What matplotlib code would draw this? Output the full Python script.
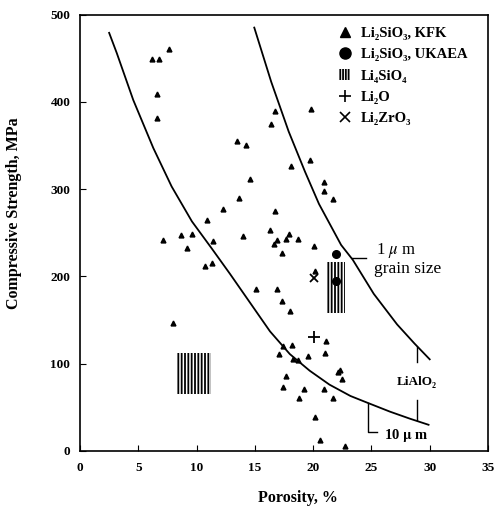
import matplotlib
matplotlib.use("Agg")
import matplotlib.pyplot as plt
from matplotlib.patches import Rectangle, Patch
from matplotlib.lines import Line2D

plt.rcParams['font.family'] = ['Liberation Serif', 'DejaVu Serif']
plt.rcParams['mathtext.fontset'] = 'stix'
plt.rcParams['hatch.linewidth'] = 1.3

# Li2SiO3, KFK data (porosity %, strength MPa)
kfk_x = [6.2, 6.8, 7.6, 6.6, 6.6, 13.5, 14.2, 14.6, 13.6, 12.3, 10.9, 16.4, 16.7, 19.8,
         18.1, 19.7, 16.7, 16.3, 16.9, 16.6, 17.7, 17.9, 18.7, 20.1, 7.1, 8.7, 9.6, 9.2,
         11.4, 14.0, 10.7, 11.3, 15.1, 16.9, 17.3, 18.0, 8.0, 17.4, 18.2, 17.1, 18.3,
         18.7, 19.6, 17.7, 17.4, 19.2, 18.8, 20.2, 20.6, 20.2, 17.3, 20.9, 20.9, 21.7,
         21.1, 21.0, 22.1, 22.3, 22.5, 20.9, 21.7, 22.7]
kfk_y = [449, 449, 461, 409, 382, 355, 350, 311, 290, 277, 265, 375, 389, 392,
         326, 333, 275, 253, 242, 237, 243, 248, 243, 235, 242, 247, 249, 232,
         240, 246, 212, 215, 186, 186, 172, 160, 147, 120, 121, 111, 105,
         104, 109, 86, 73, 71, 61, 39, 13, 206, 227, 308, 298, 289,
         126, 112, 91, 93, 83, 71, 61, 6]

# Li2SiO3, UKAEA
ukaea_x = [22.0, 22.0]
ukaea_y = [226, 195]

# Li4SiO4 ranges (x0, x1, y0, y1)
li4_x0 = [8.2, 21.2]
li4_x1 = [11.2, 22.7]
li4_y0 = [65, 158]
li4_y1 = [112, 217]

# Li2O
li2o_x = [20.1]
li2o_y = [130]

# Li2ZrO3
lizr_x = [20.1]
lizr_y = [198]

# LiAlO2 curves
c10_x = [2.5, 3.15, 4.57, 6.29, 7.86, 9.6, 11.3, 12.86, 14.58, 16.3, 18.0, 19.7,
         21.4, 23.2, 24.7, 26.6, 28.3, 29.9]
c10_y = [479, 456, 402, 347, 303, 263, 232, 203, 170, 137, 111, 92,
         76, 63, 55, 45, 37, 30]
c1_x = [14.95, 16.4, 17.9, 19.3, 20.5, 22.4, 23.4, 25.2, 27.2, 28.7, 30.0]
c1_y = [485, 423, 366, 320, 283, 236, 219, 180, 145, 123, 105]

fig = plt.figure(figsize=(5.0, 5.09), dpi=100)
ax = fig.add_axes([0.16, 0.114, 0.816, 0.8575])

ax.plot(c10_x, c10_y, color='black', lw=1.3)
ax.plot(c1_x, c1_y, color='black', lw=1.3)

for x0, x1, y0, y1 in zip(li4_x0, li4_x1, li4_y0, li4_y1):
    ax.add_patch(Rectangle((x0, y0), x1 - x0, y1 - y0, facecolor='white',
                           edgecolor='black', lw=0, hatch='|||||'))

ax.plot(kfk_x, kfk_y, '^', color='black', ms=3.5, ls='none')
ax.plot(ukaea_x, ukaea_y, 'o', color='black', ms=5.5, ls='none')
ax.plot(li2o_x, li2o_y, '+', color='black', ms=8, mew=1.3, ls='none')
ax.plot(lizr_x, lizr_y, 'x', color='black', ms=6, mew=1.3, ls='none')

# annotations
ax.plot([23.35, 24.5], [221, 221], color='black', lw=1)
ax.text(25.4, 230, r'1 $\mu$ m', fontsize=12, va='center', ha='left')
ax.text(25.2, 208, 'grain size', fontsize=12.5, va='center', ha='left')
ax.plot([28.9, 28.9], [119, 102], color='black', lw=1)
ax.plot([28.9, 28.9], [58, 36], color='black', lw=1)
ax.text(28.9, 79, 'LiAlO₂', fontsize=9.5, fontweight='bold', va='center', ha='center')
ax.plot([24.7, 24.7, 25.5], [55, 22, 22], color='black', lw=1)
ax.text(26.1, 18, r'10 $\mathbf{\mu}$ m', fontsize=10.5, fontweight='bold', va='center', ha='left')

ax.set_xlim(0, 35)
ax.set_ylim(0, 500)
ax.set_xticks([0, 5, 10, 15, 20, 25, 30, 35])
ax.set_yticks([0, 100, 200, 300, 400, 500])
ax.tick_params(direction='in', length=4, width=0.8, labelsize=9.5)
for lab in ax.get_xticklabels() + ax.get_yticklabels():
    lab.set_fontweight('bold')
ax.tick_params(axis='x', pad=8)
ax.tick_params(axis='y', pad=7)
for sp in ax.spines.values():
    sp.set_linewidth(1.2)

ax.set_xlabel('Porosity, %', fontsize=11.5, fontweight='bold')
ax.xaxis.set_label_coords(0.533, -0.089)
ax.set_ylabel('Compressive Strength, MPa', fontsize=11.5, fontweight='bold')
ax.yaxis.set_label_coords(-0.142, 0.545)

handles = [
    Line2D([], [], marker='^', color='black', ls='none', ms=7),
    Line2D([], [], marker='o', color='black', ls='none', ms=8),
    Patch(facecolor='white', edgecolor='black', lw=0, hatch='||||||'),
    Line2D([], [], marker='+', color='black', ls='none', ms=9, mew=1.2),
    Line2D([], [], marker='x', color='black', ls='none', ms=7, mew=1.2),
]
labels = ['Li₂SiO₃, KFK', 'Li₂SiO₃, UKAEA', 'Li₄SiO₄', 'Li₂O', 'Li₂ZrO₃']
leg = ax.legend(handles, labels, loc='upper left', bbox_to_anchor=(0.62, 0.985),
                frameon=False, handlelength=0.8, handletextpad=0.7, labelspacing=0.55,
                prop={'weight': 'bold', 'size': 10.5}, borderaxespad=0)

fig.savefig('out.png', dpi=100)
